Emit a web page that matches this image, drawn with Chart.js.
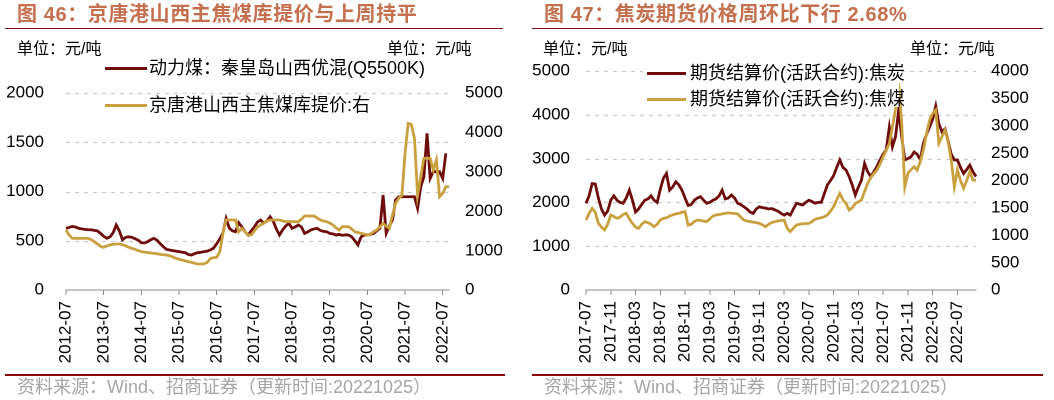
<!DOCTYPE html>
<html>
<head>
<meta charset="utf-8">
<script src="https://cdn.jsdelivr.net/npm/chart.js@4.4.0/dist/chart.umd.min.js"></script>
<style>
  html, body { margin:0; padding:0; background:#fff; }
  body { width:1054px; height:400px; position:relative; overflow:hidden;
         font-family:"Liberation Sans","Noto Sans CJK SC",sans-serif; }
  .abs { position:absolute; white-space:nowrap; }
  .title { font-size:20px; font-weight:bold; color:#C4704E; letter-spacing:0.6px; line-height:22px; top:3px; }
  .rule-top { height:1px; background:#7A1414; top:28px; }
  .rule-bot { height:2px; background:#8B0A0A; top:374px; }
  .unit { font-size:16px; line-height:18px; top:40px; color:#000; }
  .leg { font-size:18px; line-height:20px; color:#000; }
  .legline { height:3px; }
  .src { font-size:18px; line-height:20px; top:377px; color:#A6A6A6; }
  .cv { position:absolute; top:0; }
</style>
</head>
<body>
<canvas id="c1" class="cv" width="527" height="400" style="left:0;width:527px;height:400px"></canvas>
<canvas id="c2" class="cv" width="527" height="400" style="left:527px;width:527px;height:400px"></canvas>

<div class="abs title" style="left:17px">图 46：京唐港山西主焦煤库提价与上周持平</div>
<div class="abs title" style="left:544px">图 47：焦炭期货价格周环比下行 2.68%</div>
<div class="abs rule-top" style="left:5px;width:498px"></div>
<div class="abs rule-top" style="left:532px;width:511px"></div>

<div class="abs unit" style="left:17px">单位：元/吨</div>
<div class="abs unit" style="left:387px">单位：元/吨</div>
<div class="abs unit" style="left:543px">单位：元/吨</div>
<div class="abs unit" style="left:910px">单位：元/吨</div>

<div id="legL"></div>
<div class="abs" style="left:643px;top:63px;width:256px;height:44px;background:#fff"></div>
<div id="legR"></div>

<div class="abs rule-bot" style="left:5px;width:500px"></div>
<div class="abs rule-bot" style="left:532px;width:511px"></div>
<div class="abs src" style="left:17px">资料来源：Wind、招商证券（更新时间:20221025）</div>
<div class="abs src" style="left:544px">资料来源：Wind、招商证券（更新时间:20221025）</div>

<script>
// ---------------- DATA: chart 46 (monthly, 2012-07 .. 2022-09) ----------------
const leftTickLabels = ['2012-07','2013-07','2014-07','2015-07','2016-07','2017-07','2018-07','2019-07','2020-07','2021-07','2022-07'];
const leftSeriesNames = ['动力煤：秦皇岛山西优混(Q5500K)', '京唐港山西主焦煤库提价:右'];
const thermalCoal = [
  626,635,645,640,626,620,615,612,612,605,
  600,575,545,525,540,580,660,600,510,535,
  540,535,520,505,480,478,490,510,525,505,
  470,440,413,406,400,395,389,383,379,360,
  355,370,379,383,389,395,406,425,470,520,
  580,727,630,600,592,683,640,592,558,600,
  640,690,710,680,700,744,700,620,558,610,
  650,677,626,640,660,640,575,590,610,620,
  626,605,595,592,575,570,558,565,555,560,
  558,540,500,457,540,558,560,565,575,600,
  626,964,575,650,710,913,947,947,947,947,
  947,947,829,1048,1150,1590,1133,1201,1201,1201,
  1133,1387,null
];
const jingtangCoking = [
  1523,1396,1311,1311,1311,1311,1311,1311,1280,1227,
  1170,1110,1083,1120,1142,1160,1167,1167,1150,1120,
  1083,1057,1030,1000,973,960,950,940,930,920,
  905,895,888,870,840,803,780,760,740,719,
  700,680,660,660,665,700,803,820,830,973,
  1438,1777,1777,1777,1777,1480,1565,1480,1396,1396,
  1500,1600,1650,1700,1750,1777,1777,1777,1777,1750,
  1734,1734,1734,1734,1734,1800,1878,1878,1878,1878,
  1830,1777,1750,1734,1700,1650,1580,1523,1607,1607,
  1607,1550,1480,1460,1438,1420,1396,1420,1480,1523,
  1600,1692,1620,1565,1900,2200,2327,2400,3469,4230,
  4200,3850,2400,2876,3342,3342,3342,3046,3300,2369,
  2450,2622,2622
];

// ---------------- DATA: chart 47 (half-monthly, 2017-07 .. 2022-10) ----------------
const rightTickLabels = ['2017-07','2017-11','2018-03','2018-07','2018-11','2019-03','2019-07','2019-11','2020-03','2020-07','2020-11','2021-03','2021-07','2021-11','2022-03','2022-07'];
const rightSeriesNames = ['期货结算价(活跃合约):焦炭', '期货结算价(活跃合约):焦煤'];
const cokeFutures = [
  1980,2150,2430,2420,2100,1850,1710,1800,2050,2150,
  2050,2000,1980,2100,2280,2050,1780,1850,1950,2050,
  2080,2150,2050,2000,2300,2550,2660,2280,2350,2470,
  2400,2280,2100,1930,1950,2050,2100,2130,2050,1980,
  2000,2050,2080,2150,2280,2080,2100,2170,2100,1980,
  1950,1900,1850,1780,1750,1850,1900,1880,1870,1850,
  1860,1830,1800,1750,1710,1750,1710,1850,1980,1960,
  1940,2000,2050,2020,1980,2000,2000,2200,2400,2500,
  2610,2800,2968,2800,2740,2590,2400,2170,2350,2510,
  2890,2700,2590,2700,2820,2970,3100,3200,3720,3270,
  3500,4100,3500,2970,3000,3040,3150,3100,2970,3350,
  3550,3720,3900,4200,3800,3610,3680,3400,3100,2970,
  2970,2800,2660,2750,2850,2700,2590
];
const cokingCoalFutures = [
  1278,1400,1491,1420,1217,1150,1096,1200,1370,1340,
  1309,1330,1380,1400,1300,1217,1150,1126,1200,1248,
  1230,1200,1157,1200,1280,1309,1320,1350,1370,1390,
  1400,1420,1431,1187,1200,1250,1278,1270,1260,1248,
  1300,1350,1370,1380,1390,1400,1410,1400,1400,1390,
  1330,1278,1260,1250,1240,1230,1217,1190,1157,1200,
  1230,1248,1260,1270,1278,1126,1065,1130,1187,1200,
  1210,1215,1217,1250,1290,1309,1320,1340,1370,1440,
  1522,1650,1765,1650,1583,1461,1500,1583,1610,1644,
  1800,1948,2050,2130,2191,2300,2435,2550,2678,2983,
  3300,3774,3043,1887,2130,2200,2252,2191,2350,2557,
  2850,3104,3226,3287,2678,2800,2922,2700,2374,1887,
  2191,2000,1857,2000,2161,2009,2000
];

// category labels (dates) for the x axes
function monthLabels(y, m, n) {
  const out = [];
  for (let i = 0; i < n; i++) {
    const t = (m - 1) + i, yy = y + Math.floor(t / 12), mm = t % 12 + 1;
    out.push(yy + '-' + String(mm).padStart(2, '0'));
  }
  return out;
}
function halfMonthLabels(y, m, n) {
  const out = [];
  for (let i = 0; i < n; i++) {
    const t = (m - 1) + Math.floor(i / 2), yy = y + Math.floor(t / 12), mm = t % 12 + 1;
    out.push(yy + '-' + String(mm).padStart(2, '0') + (i % 2 === 0 ? '-01' : '-16'));
  }
  return out;
}
const leftMonths = monthLabels(2012, 7, thermalCoal.length);
const rightDates = halfMonthLabels(2017, 7, cokeFutures.length);

// ---------------- styling ----------------
const RED = '#6E0C0C', GOLD = '#C9A03E';
const FONT = '"Liberation Sans", Arial, "Noto Sans CJK SC", sans-serif';
const GRID = '#CCCCCC', AXIS = '#8C8C8C';

function legend(id, names, x0, lineW, textX, ys) {
  const el = document.getElementById(id);
  const cols = [RED, GOLD];
  names.forEach((n, i) => {
    const l = document.createElement('div');
    l.className = 'abs legline';
    l.style.cssText = `left:${x0}px;top:${ys[i]-1}px;width:${lineW}px;background:${cols[i]}`;
    el.appendChild(l);
    const t = document.createElement('div');
    t.className = 'abs leg';
    t.style.cssText = `left:${textX}px;top:${ys[i]-10}px`;
    t.textContent = n;
    el.appendChild(t);
  });
}
legend('legL', leftSeriesNames, 105, 42, 149, [68, 105]);
legend('legR', rightSeriesNames, 647, 39, 690, [73, 99]);

// dashed horizontal grid lines at the left-axis ticks (drawn through the y scale)
const dashGrid = {
  id: 'dashGrid',
  beforeDatasetsDraw(chart) {
    const s = chart.scales.y, a = chart.chartArea, ctx = chart.ctx;
    ctx.save();
    ctx.strokeStyle = GRID;
    ctx.lineWidth = 1.2;
    ctx.setLineDash([4, 5]);
    s.ticks.forEach(t => {
      if (t.value === 0) return;
      const y = Math.round(s.getPixelForValue(t.value)) + 0.5;
      ctx.beginPath(); ctx.moveTo(a.left, y); ctx.lineTo(a.right, y); ctx.stroke();
    });
    ctx.restore();
  }
};

function makeChart(canvasId, labels, isTick, s1, s2, cfg) {
  return new Chart(document.getElementById(canvasId), {
    type: 'line',
    plugins: [dashGrid],
    data: {
      labels: labels,
      datasets: [
        { label: 'a', data: s1, yAxisID: 'y', borderColor: RED, borderWidth: 2.8, pointRadius: 0, tension: 0, order: 1 },
        { label: 'b', data: s2, yAxisID: 'y1', borderColor: GOLD, borderWidth: 2.8, pointRadius: 0, tension: 0, order: 0 }
      ]
    },
    options: {
      responsive: false, animation: false, devicePixelRatio: 2,
      layout: { padding: { top: cfg.top, bottom: 28, left: 0, right: 0 } },
      plugins: { legend: { display: false }, tooltip: { enabled: false } },
      scales: {
        x: {
          type: 'category',
          afterFit: s => { s.height = 82; },
          grid: {
            display: true, drawOnChartArea: false, drawTicks: true, tickLength: 5,
            color: c => isTick(labels[c.index]) ? AXIS : 'rgba(0,0,0,0)',
            tickColor: c => isTick(labels[c.index]) ? AXIS : 'rgba(0,0,0,0)'
          },
          border: { display: true, color: AXIS, width: 1 },
          ticks: {
            autoSkip: false, maxRotation: 90, minRotation: 90, padding: 6,
            color: '#000', font: { family: FONT, size: 17 },
            callback: function (v, i) { const l = labels[i]; return isTick(l) ? l.slice(0, 7) : ''; }
          }
        },
        y: {
          position: 'left', min: 0, max: cfg.lmax, afterFit: s => { s.width = cfg.lw; },
          grid: { display: false, drawTicks: false },
          border: { display: false },
          ticks: { stepSize: cfg.lstep, padding: cfg.lpad, color: '#000', font: { family: FONT, size: 17 }, callback: v => String(v) }
        },
        y1: {
          position: 'right', min: 0, max: cfg.rmax, afterFit: s => { s.width = cfg.rw; },
          grid: { display: false, drawTicks: false },
          border: { display: false },
          ticks: { stepSize: cfg.rstep, padding: cfg.rpad, color: '#000', font: { family: FONT, size: 17 }, callback: v => String(v) }
        }
      }
    }
  });
}

makeChart('c1', leftMonths, l => leftTickLabels.includes(l), thermalCoal, jingtangCoking,
  { top: 93, lmax: 2000, lstep: 500, rmax: 5000, rstep: 1000, lw: 66, rw: 78, lpad: 22, rpad: 16 });
makeChart('c2', rightDates, l => l.endsWith('-01') && rightTickLabels.includes(l.slice(0, 7)), cokeFutures, cokingCoalFutures,
  { top: 71, lmax: 5000, lstep: 1000, rmax: 4000, rstep: 500, lw: 59, rw: 78, lpad: 16, rpad: 15 });
</script>
</body>
</html>
